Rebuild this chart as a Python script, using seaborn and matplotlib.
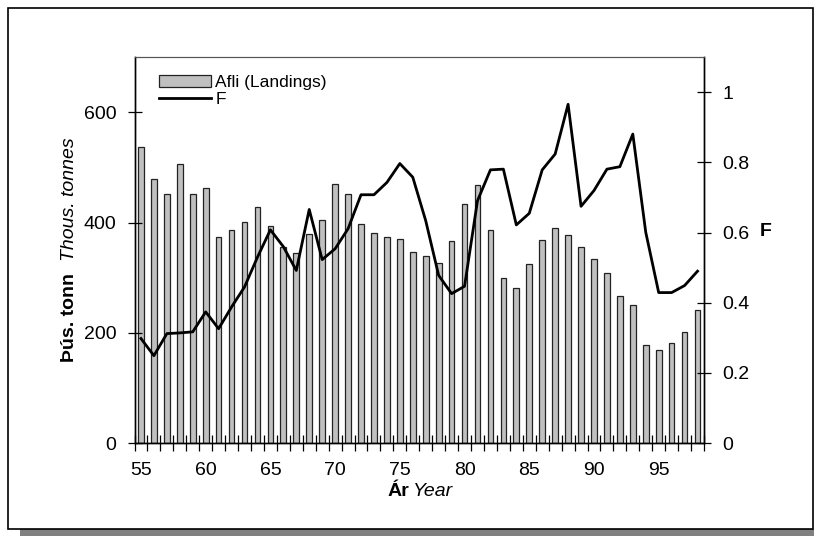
import numpy as np
import matplotlib
matplotlib.use("Agg")
import matplotlib.pyplot as plt
import seaborn as sns
from matplotlib.patches import Patch, Rectangle
from matplotlib.lines import Line2D

# Afli og fiskveiðidauði 1955-1998
years = list(range(1955, 1999))
landings = [537, 480, 451, 507, 452, 463, 374, 386, 401, 428,
            393, 356, 345, 380, 405, 470, 452, 398, 382, 374,
            370, 346, 339, 327, 367, 433, 468, 387, 299, 282,
            325, 368, 391, 377, 355, 334, 308, 267, 251, 178,
            169, 181, 202, 242]
f_values = [0.298, 0.249, 0.312, 0.314, 0.317, 0.374, 0.326, 0.388, 0.445, 0.530,
            0.608, 0.560, 0.492, 0.666, 0.523, 0.554, 0.611, 0.708, 0.708, 0.743,
            0.797, 0.758, 0.634, 0.478, 0.426, 0.447, 0.691, 0.779, 0.781, 0.622,
            0.655, 0.779, 0.824, 0.966, 0.675, 0.720, 0.781, 0.788, 0.881, 0.601,
            0.429, 0.429, 0.449, 0.490]
year_labels = [str(y % 100) for y in years]

plt.rcParams['font.family'] = ['Liberation Sans', 'DejaVu Sans']
plt.rcParams['font.size'] = 14

W, H = 814, 536
fig = plt.figure(figsize=(W / 100, H / 100), dpi=100)
ax = fig.add_axes([134.5 / W, 1 - 443 / H, (704 - 134.5) / W, (443 - 57.3) / H])

pos = np.arange(len(years))
sns.barplot(x=pos, y=landings, color='#c0c0c0', saturation=1, width=0.44,
            edgecolor='#222222', linewidth=0.9, ax=ax, native_scale=True)

ax2 = ax.twinx()
sns.lineplot(x=pos, y=f_values, color='black', linewidth=2.0, ax=ax2)

ax.set_xlim(-0.5, len(years) - 0.5)
ax.set_ylim(0, 700)
ax2.set_ylim(0, 1.1)

# x-ás: merki á mörkum, tölur á miðju
ax.set_xticks(pos[::5])
ax.set_xticklabels(year_labels[::5])
ax.set_xticks(np.arange(-0.5, len(years), 1), minor=True)
ax.tick_params(axis='x', which='major', length=0, pad=14, labelsize=14)
ax.tick_params(axis='x', which='minor', direction='inout', length=12, width=0.9)
ax.set_xlabel('')
ax.set_ylabel('')

ax.set_yticks([0, 200, 400, 600])
ax.tick_params(axis='y', direction='inout', length=10, width=0.9, pad=8, labelsize=14)
ax2.set_yticks([0, 0.2, 0.4, 0.6, 0.8, 1.0])
ax2.set_yticklabels(['0', '0.2', '0.4', '0.6', '0.8', '1'])
ax2.tick_params(axis='y', direction='inout', length=10, width=0.9, pad=8, labelsize=14)
ax2.set_ylabel('')

for a in (ax, ax2):
    for s in a.spines.values():
        s.set_color('black')
        s.set_linewidth(1.0)
    a.spines['top'].set_color('#555555')
    a.spines['top'].set_linewidth(0.8)

# skýringar
handles = [Patch(facecolor='#c0c0c0', edgecolor='#222222', linewidth=0.9),
           Line2D([0], [0], color='black', linewidth=2.0)]
ax2.legend(handles, ['Afli (Landings)', 'F'], loc='upper left',
           bbox_to_anchor=(0.043, 0.955), frameon=False, fontsize=12.5,
           handlelength=3.0, handletextpad=0.25, labelspacing=0.12,
           borderpad=0, borderaxespad=0)

# ásaheiti
fig.text(69 / W, 1 - 317 / H, 'Þús. tonn', rotation=90, ha='center', va='center',
         fontsize=14, fontweight='bold')
fig.text(69 / W, 1 - 199 / H, 'Thous. tonnes', rotation=90, ha='center', va='center',
         fontsize=14, fontstyle='italic')
fig.text(409 / W, 1 - 492 / H, 'Ár', ha='right', va='center', fontsize=14, fontweight='bold')
fig.text(413 / W, 1 - 492 / H, 'Year', ha='left', va='center', fontsize=14, fontstyle='italic')
fig.text(766 / W, 1 - 232 / H, 'F', ha='center', va='center', fontsize=14, fontweight='bold')

# rammi og skuggi
fig.patches.append(Rectangle((20 / W, 0), (W - 20) / W, 7 / H, transform=fig.transFigure,
                             facecolor='#808080', edgecolor='none', zorder=0))
fig.patches.append(Rectangle((8 / W, 7 / H), (812.5 - 8) / W, (529 - 8) / H,
                             transform=fig.transFigure, facecolor='none',
                             edgecolor='black', linewidth=1.2, zorder=1))

fig.savefig('out.png', dpi=100)
